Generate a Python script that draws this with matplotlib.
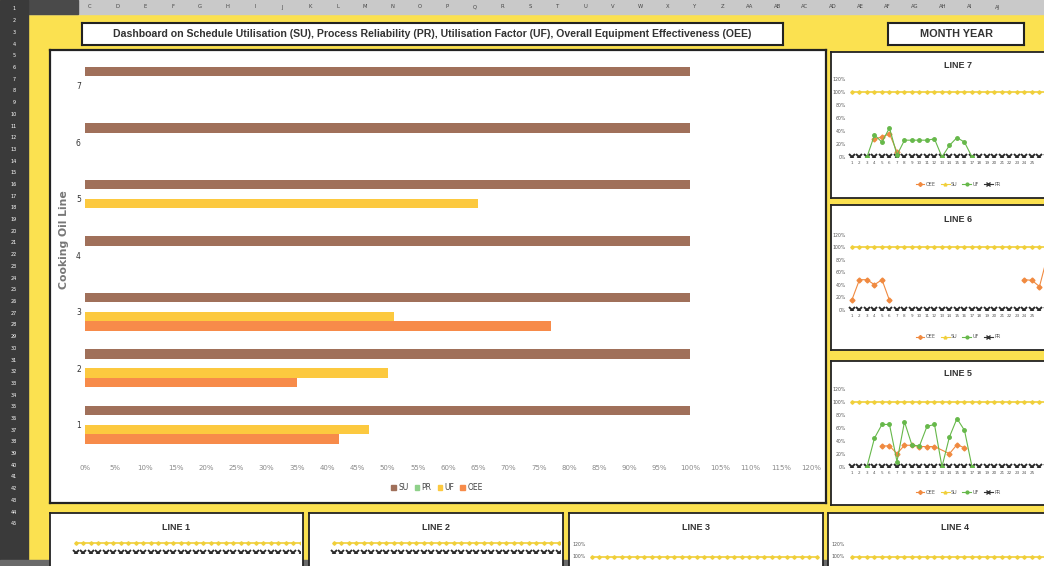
"""
Dashboard: SU / PR / UF / OEE per cooking oil line, with daily line charts.
"""
import numpy as np
import matplotlib.pyplot as plt
from matplotlib.patches import Patch, Rectangle
from matplotlib.lines import Line2D

W, H = 1044, 566

# main chart data (percent)
oil_lines = [1, 2, 3, 4, 5, 6, 7]
su = [100, 100, 100, 100, 100, 100, 100]
pr = [0, 0, 0, 0, 0, 0, 0]
uf = [47, 50, 51, 0, 65, 0, 0]
oee = [42, 35, 77, 0, 0, 0, 0]
x_ticks = list(range(0, 121, 5))

# daily data for the small panels
days = list(range(1, 32))
shown_days = list(range(1, 26))
l7_uf_days = [3, 4, 5, 6, 7, 8, 9, 10, 11, 12, 13, 14, 15, 16, 17]
l7_uf = [0, 34, 23, 45, 3, 26, 26, 26, 26, 28, 0, 18, 30, 23, 0]
l7_oee_days = [4, 5, 6, 7]
l7_oee = [28, 31, 36, 8]
l6_oee_days = [1, 2, 3, 4, 5, 6]
l6_oee = [16, 48, 48, 40, 48, 15]
l6_oee_days_b = [24, 25, 26, 27]
l6_oee_b = [48, 47, 37, 83]
l5_uf_days = [3, 4, 5, 6, 7, 8, 9, 10, 11, 12, 13, 14, 15, 16, 17]
l5_uf = [0, 44, 65, 65, 8, 69, 33, 32, 62, 65, 0, 46, 74, 56, 0]
l5_oee_days = [5, 6, 7, 8, 9, 10, 11, 12, 14, 15, 16]
l5_oee = [32, 32, 20, 33, 33, 31, 31, 31, 20, 34, 29]
daily_su = [100] * 31
daily_pr = [0] * 31

col_letters = ["C", "D", "E", "F", "G", "H", "I", "J", "K", "L", "M", "N", "O", "P",
               "Q", "R", "S", "T", "U", "V", "W", "X", "Y", "Z", "AA", "AB", "AC",
               "AD", "AE", "AF", "AG", "AH", "AI", "AJ"]

C_SU, C_PR, C_UF, C_OEE = "#a0705a", "#8fd18a", "#fcc93f", "#f78b4a"
C_LSU, C_LUF, C_LOEE = "#f0cf3a", "#66b84a", "#f08a40"
YELLOW = "#fbe150"
TITLE_FONT = ["Liberation Sans", "DejaVu Sans"]

fig = plt.figure(figsize=(W / 100, H / 100), dpi=100)
fig.patch.set_facecolor(YELLOW)


def px_axes(x0, y0, x1, y1, **kw):
    return fig.add_axes([x0 / W, 1 - y1 / H, (x1 - x0) / W, (y1 - y0) / H], **kw)


def box(x0, y0, x1, y1, fc="white", lw=1.3, ec="#222222"):
    ax = px_axes(x0, y0, x1, y1)
    ax.set_facecolor(fc)
    ax.set_xticks([])
    ax.set_yticks([])
    for s in ax.spines.values():
        s.set_linewidth(lw)
        s.set_edgecolor(ec)
    return ax


def ftext(x, y, s, **kw):
    fig.text(x / W, 1 - y / H, s, **kw)


# spreadsheet chrome
chrome = px_axes(0, 0, W, H)
chrome.set_xlim(0, W)
chrome.set_ylim(H, 0)
chrome.axis("off")
chrome.add_patch(Rectangle((28, 0), W - 28, 14, color="#c9c9c9"))
chrome.add_patch(Rectangle((28, 0), 50, 14, color="#4a4a4a"))
chrome.add_patch(Rectangle((0, 0), 28, H, color="#3a3a3a"))
chrome.add_patch(Rectangle((0, 560), W, 6, color="#6a6a6a"))
for i, c in enumerate(col_letters):
    chrome.text(90 + i * 27.5, 7, c, fontsize=3.8, ha="center", va="center", color="#444444")
for i in range(45):
    chrome.text(14, 9 + i * 11.7, str(i + 1), fontsize=3.5, ha="center", va="center", color="white")

# title boxes
box(82, 23, 783, 45, lw=1.5)
ftext(432, 34, "Dashboard on Schedule Utilisation (SU), Process Reliability (PR), "
      "Utilisation Factor (UF), Overall Equipment Effectiveness (OEE)",
      fontsize=7.6, fontweight="bold", ha="center", va="center", color="#333333", family=TITLE_FONT)
box(888, 23, 1024, 45, lw=1.5)
ftext(956, 34, "MONTH YEAR", fontsize=7.8, fontweight="bold", ha="center", va="center",
      color="#333333", family=TITLE_FONT)

# main chart
box(50, 50, 826, 503, lw=1.6)
ax = px_axes(85, 57.5, 811, 453)
ax.patch.set_alpha(0)
h = 0.168
y = np.array(oil_lines, dtype=float)
ax.barh(y + 1.5 * h, su, height=h, color=C_SU)
ax.barh(y + 0.5 * h, pr, height=h, color=C_PR)
ax.barh(y - 0.5 * h, uf, height=h, color=C_UF)
ax.barh(y - 1.5 * h, oee, height=h, color=C_OEE)
ax.set_xlim(0, 120)
ax.set_ylim(0.5, 7.5)
ax.set_xticks(x_ticks)
ax.set_xticklabels([f"{t}%" for t in x_ticks], fontsize=5, color="#8a8a8a")
ax.set_yticks(oil_lines)
ax.set_yticklabels([str(v) for v in oil_lines], fontsize=5.5, color="#333333")
ax.tick_params(length=0)
ax.tick_params(axis="x", pad=9)
ax.tick_params(axis="y", pad=3)
for s in ax.spines.values():
    s.set_visible(False)
ftext(64, 240, "Cooking Oil Line", rotation=90, fontsize=7.8, fontweight="bold",
      color="#777777", ha="center", va="center")
handles = [Patch(color=c, label=l) for c, l in
           [(C_SU, "SU"), (C_PR, "PR"), (C_UF, "UF"), (C_OEE, "OEE")]]
fig.legend(handles=handles, loc="center", bbox_to_anchor=(437 / W, 1 - 488 / H), ncol=4,
           frameon=False, fontsize=5.5, handlelength=0.6, handleheight=0.6,
           handletextpad=0.3, columnspacing=0.8, labelcolor="#444444")


def small_panel(x0, y0, x1, y1, title, title_y, plot, series, show_text=True):
    box(x0, y0, x1, y1, lw=1.3)
    ftext((x0 + x1) / 2, title_y, title, fontsize=6.5, fontweight="bold", ha="center",
          va="center", color="#333333", family=TITLE_FONT)
    px0, py0, px1, py1 = plot
    a = px_axes(px0, py0, px1, py1)
    a.patch.set_alpha(0)
    a.set_xlim(0.47, 0.47 + (px1 - px0) / 7.5)
    a.set_ylim(0, 120)
    a.plot(days, daily_su, color=C_LSU, lw=1.2, marker="D", ms=1.8)
    a.plot(days, daily_pr, color="#2a2a2a", lw=0.6, marker="x", ms=4, mew=1.4)
    for d, v, c, m in series:
        a.plot(d, v, color=c, lw=0.8, marker=m, ms=2.5)
    for s in a.spines.values():
        s.set_visible(False)
    a.tick_params(length=0, pad=1.5)
    if show_text:
        a.set_yticks(range(0, 121, 20))
        a.set_yticklabels([f"{t}%" for t in range(0, 121, 20)], fontsize=3.3, color="#555555")
        a.set_xticks(shown_days)
        a.set_xticklabels([str(d) for d in shown_days], fontsize=3, color="#555555")
        a.tick_params(axis="x", pad=3)
    else:
        a.set_xticks([])
        a.set_yticks([])
    return a


def small_legend(cx, cy):
    hs = [Line2D([], [], color=C_LOEE, marker="D", ms=2, lw=0.8, label="OEE"),
          Line2D([], [], color=C_LSU, marker="^", ms=2, lw=0.8, label="SU"),
          Line2D([], [], color=C_LUF, marker="o", ms=2, lw=0.8, label="UF"),
          Line2D([], [], color="#333333", marker="x", ms=2.5, lw=0.8, label="PR")]
    fig.legend(handles=hs, loc="center", bbox_to_anchor=(cx / W, 1 - cy / H), ncol=4,
               frameon=False, fontsize=3.5, handlelength=1.8, handletextpad=0.3,
               columnspacing=1.0, labelcolor="#555555")


# right-hand panels
small_panel(831, 52, 1085, 198, "LINE 7", 65, (848, 79.4, 1044, 157),
            [(l7_oee_days, l7_oee, C_LOEE, "D"), (l7_uf_days, l7_uf, C_LUF, "o")])
small_legend(958, 184)
small_panel(831, 205, 1085, 350, "LINE 6", 219, (848, 234.7, 1044, 309.7),
            [(l6_oee_days, l6_oee, C_LOEE, "D"), (l6_oee_days_b, l6_oee_b, C_LOEE, "D")])
small_legend(958, 337)
small_panel(831, 361, 1085, 505, "LINE 5", 374, (848, 388.7, 1044, 466.7),
            [(l5_oee_days, l5_oee, C_LOEE, "D"), (l5_uf_days, l5_uf, C_LUF, "o")])
small_legend(958, 492)

# bottom panels (cut off by the screenshot)
small_panel(50, 513, 303, 600, "LINE 1", 528, (72, 541, 300, 553), [], show_text=False)
small_panel(309, 513, 563, 600, "LINE 2", 528, (330, 541, 560, 553), [], show_text=False)
small_panel(569, 513, 823, 600, "LINE 3", 528, (588, 543, 820, 627), [], show_text=False)
small_panel(828, 513, 1082, 600, "LINE 4", 528, (848, 543, 1044, 627), [], show_text=False)
for xx in (572, 831):
    ftext(xx, 545, "120%", fontsize=3.3, color="#555555", va="center")
    ftext(xx, 557, "100%", fontsize=3.3, color="#555555", va="center")

fig.savefig("out.png", dpi=100, facecolor=fig.get_facecolor())
